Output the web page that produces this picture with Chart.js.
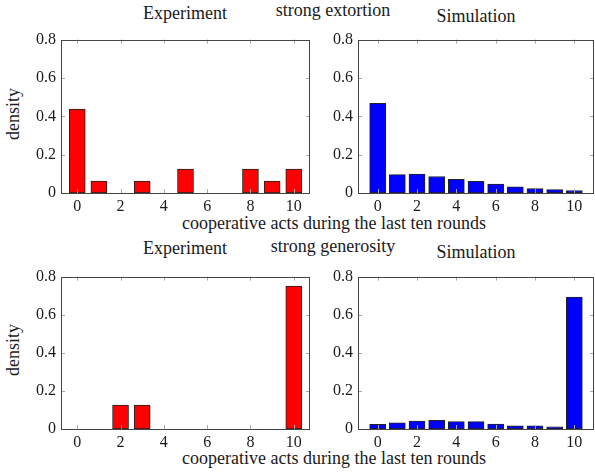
<!DOCTYPE html>
<html>
<head>
<meta charset="utf-8">
<script src="https://cdn.jsdelivr.net/npm/chart.js@4.4.1/dist/chart.umd.min.js"></script>
<style>
body{margin:0;background:#fff;}
#wrap{position:relative;width:595px;height:474px;font-family:"Liberation Serif","Times New Roman","DejaVu Serif",serif;color:#1a1a1a;overflow:hidden;}
.lbl{position:absolute;font-size:18px;line-height:18px;white-space:nowrap;transform:translateX(-50%);}
.rot{position:absolute;font-size:18px;line-height:18px;white-space:nowrap;transform:translate(-50%,-50%) rotate(-90deg);}
canvas{position:absolute;}
</style>
</head>
<body>
<div id="wrap">
  <div class="lbl" style="left:185px;top:4px">Experiment</div>
  <div class="lbl" style="left:333px;top:1px">strong extortion</div>
  <div class="lbl" style="left:476px;top:7px">Simulation</div>
  <div class="lbl" style="left:334px;top:214px">cooperative acts during the last ten rounds</div>
  <div class="rot" style="left:13px;top:114px">density</div>

  <div class="lbl" style="left:185px;top:239px">Experiment</div>
  <div class="lbl" style="left:333px;top:237px">strong generosity</div>
  <div class="lbl" style="left:476px;top:243px">Simulation</div>
  <div class="lbl" style="left:334px;top:449px">cooperative acts during the last ten rounds</div>
  <div class="rot" style="left:13px;top:350px">density</div>

  <canvas id="c_tl" width="315" height="190" style="left:0;top:25px"></canvas>
  <canvas id="c_tr" width="280" height="190" style="left:315px;top:25px"></canvas>
  <canvas id="c_bl" width="315" height="190" style="left:0;top:262px"></canvas>
  <canvas id="c_br" width="280" height="190" style="left:315px;top:262px"></canvas>
</div>
<script>
// datos
const acts = [0,1,2,3,4,5,6,7,8,9,10];
const extExperiment = [0.4375,0.0625,0,0.0625,0,0.125,0,0,0.125,0.0625,0.125];
const extSimulation = [0.467,0.096,0.099,0.086,0.071,0.061,0.047,0.032,0.023,0.018,0.012];
const genExperiment = [0,0,0.125,0.125,0,0,0,0,0,0,0.75];
const genSimulation = [0.024,0.032,0.041,0.046,0.039,0.039,0.026,0.017,0.017,0.012,0.693];
const xTicks = [0,2,4,6,8,10];
const yTicks = [0,0.2,0.4,0.6,0.8];

// marco y marcas hacia adentro (estilo pgfplots)
const frame = {
  id: 'frame',
  afterDatasetsDraw(chart){
    const ctx = chart.ctx, a = chart.chartArea;
    const x = chart.scales.x, y = chart.scales.y;
    ctx.save();
    ctx.lineWidth = 1;
    ctx.strokeStyle = '#a8a8a8';
    ctx.beginPath();
    xTicks.forEach(v=>{
      const px = Math.round(x.getPixelForValue(v)) + 0.5;
      ctx.moveTo(px, a.bottom); ctx.lineTo(px, a.bottom - 4);
      ctx.moveTo(px, a.top); ctx.lineTo(px, a.top + 4);
    });
    yTicks.forEach(v=>{
      const py = Math.round(y.getPixelForValue(v)) + 0.5;
      ctx.moveTo(a.left, py); ctx.lineTo(a.left + 4, py);
      ctx.moveTo(a.right, py); ctx.lineTo(a.right - 4, py);
    });
    ctx.stroke();
    ctx.strokeStyle = '#444';
    ctx.strokeRect(Math.round(a.left) + 0.5, Math.round(a.top) + 0.5,
      Math.round(a.right - a.left) - 1, Math.round(a.bottom - a.top));
    ctx.restore();
  }
};

Chart.defaults.font.family = '"Liberation Serif", "Times New Roman", "DejaVu Serif", serif';
Chart.defaults.font.size = 16;
Chart.defaults.color = '#1a1a1a';

function makeChart(id, values, color, xmin, xmax, yWidth, pad, xHeight){
  const config = {
    type: 'bar',
    data: {
      datasets: [{
        data: acts.map((a,i)=>({x:a, y:values[i]})),
        backgroundColor: color,
        borderColor: '#222',
        borderWidth: 1,
        borderSkipped: false,
        barThickness: 16
      }]
    },
    options: {
      responsive: false,
      animation: false,
      layout: {padding: pad},
      plugins: {legend:{display:false}, tooltip:{enabled:false}},
      scales: {
        x: {
          type: 'linear', min: xmin, max: xmax, offset: false,
          grid: {display:false, drawTicks:false, offset:false},
          border: {display:false},
          ticks: {padding: 4, maxRotation: 0},
          afterBuildTicks: s => { s.ticks = xTicks.map(v=>({value:v})); },
          afterFit: s => { s.height = xHeight; }
        },
        y: {
          min: 0, max: 0.8,
          grid: {display:false, drawTicks:false},
          border: {display:false},
          ticks: {padding: 5, callback: v => String(+v.toFixed(1))},
          afterBuildTicks: s => { s.ticks = yTicks.map(v=>({value:v})); },
          afterFit: s => { s.width = yWidth; }
        }
      }
    },
    plugins: [frame]
  };
  return new Chart(document.getElementById(id), config);
}

makeChart('c_tl', extExperiment, '#ff0000', -0.75, 10.75, 61, {top:10,left:0,right:5,bottom:0}, 22);
makeChart('c_tr', extSimulation, '#0000ff', -1, 11, 43, {top:10,left:0,right:1,bottom:0}, 22);
makeChart('c_bl', genExperiment, '#ff0000', -0.75, 10.75, 61, {top:10,left:0,right:5,bottom:0}, 23);
makeChart('c_br', genSimulation, '#0000ff', -1, 11, 43, {top:10,left:0,right:1,bottom:0}, 23);
</script>
</body>
</html>
